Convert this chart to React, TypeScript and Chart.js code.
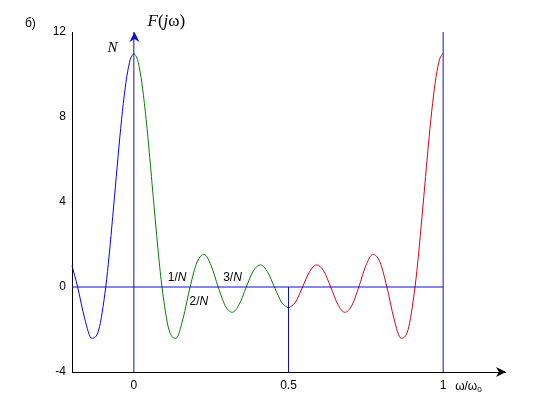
import React, { useEffect, useRef } from "react";
import { Chart, registerables } from "chart.js";

Chart.register(...registerables);

// ω/ω0 values and F(jω) values, per coloured segment
const blueOmega = [-0.2, -0.1818, -0.1591, -0.1364, -0.1136, -0.0909, -0.0795, -0.0682, -0.0568, -0.0455, -0.0341, -0.0227, -0.0114, 0];
const blueF = [1.0, 0, -1.48, -2.41, -2.02, 0, 1.55, 3.33, 5.2, 7.03, 8.64, 9.91, 10.72, 11];

const greenOmega = [0, 0.0114, 0.0227, 0.0341, 0.0455, 0.0568, 0.0682, 0.0795, 0.0909, 0.1136, 0.1364, 0.1591, 0.1818, 0.2045, 0.2273, 0.25, 0.2727, 0.2955, 0.3182, 0.3409, 0.3636, 0.3864, 0.4091, 0.4318, 0.4545, 0.4773, 0.5];
const greenF = [11, 10.72, 9.91, 8.64, 7.03, 5.2, 3.33, 1.55, 0, -2.02, -2.41, -1.48, 0, 1.18, 1.53, 1.0, 0, -0.88, -1.19, -0.81, 0, 0.76, 1.04, 0.72, 0, -0.71, -1.0];

const redOmega = [0.5, 0.5227, 0.5455, 0.5682, 0.5909, 0.6136, 0.6364, 0.6591, 0.6818, 0.7045, 0.7273, 0.75, 0.7727, 0.7955, 0.8182, 0.8409, 0.8636, 0.8864, 0.9091, 0.9205, 0.9318, 0.9432, 0.9545, 0.9659, 0.9773, 0.9886, 1];
const redF = [-1.0, -0.71, 0, 0.72, 1.04, 0.76, 0, -0.81, -1.19, -0.88, 0, 1.0, 1.53, 1.18, 0, -1.48, -2.41, -2.02, 0, 1.55, 3.33, 5.2, 7.03, 8.64, 9.91, 10.72, 11];

// reference lines (ω/ω0, F) endpoints
const zeroOmegaLine = [{ x: 0, y: -4 }, { x: 0, y: 12 }];
const zeroFLine = [{ x: -0.2, y: 0 }, { x: 1, y: 0 }];
const halfLine = [{ x: 0.5, y: 0 }, { x: 0.5, y: -4 }];
const oneLine = [{ x: 1, y: -4 }, { x: 1, y: 12 }];

const xTicks = [0, 0.5, 1];
const xTickLabels = ["0", "0.5", "1"];
const yTicks = [-4, 0, 4, 8, 12];

const BLUE = "#0000ff";
const AXBLUE = "#1010c8";
const GREEN = "#008000";
const RED = "#e00010";

const pts = (xs: number[], ys: number[]) => xs.map((x, i) => ({ x, y: ys[i] }));

function drawParts(ctx: CanvasRenderingContext2D, x: number, y: number, parts: [string, string, number?][]) {
  let cx = x;
  for (const [t, f, dy] of parts) {
    ctx.font = f;
    ctx.fillText(t, cx, y + (dy || 0));
    cx += ctx.measureText(t).width;
  }
}

const decorations = {
  id: "decorations",
  afterDatasetsDraw(chart: any) {
    const { ctx } = chart;
    const x = chart.scales.x;
    const y = chart.scales.y;
    ctx.save();
    ctx.textBaseline = "alphabetic";
    ctx.textAlign = "left";
    // x-axis arrow
    const ax = x.right + 1;
    const ay = y.bottom;
    ctx.fillStyle = "#000";
    ctx.beginPath();
    ctx.moveTo(ax, ay);
    ctx.lineTo(ax - 10, ay - 5);
    ctx.lineTo(ax - 7, ay);
    ctx.lineTo(ax - 10, ay + 5);
    ctx.closePath();
    ctx.fill();
    // arrow on ω=0 line
    const px = Math.round(x.getPixelForValue(0)) + 0.5;
    const top = y.top;
    ctx.fillStyle = AXBLUE;
    ctx.beginPath();
    ctx.moveTo(px, top);
    ctx.lineTo(px - 5, top + 10);
    ctx.lineTo(px, top + 7);
    ctx.lineTo(px + 5, top + 10);
    ctx.closePath();
    ctx.fill();

    ctx.fillStyle = "#000";
    const serifI = 'italic 17px "Liberation Serif", "Times New Roman", serif';
    const serif = '17px "Liberation Serif", "Times New Roman", serif';
    drawParts(ctx, px + 13, top - 6, [["F", serifI], ["(", serif], ["j", serifI], ["ω", serif], [")", serif]]);
    ctx.font = 'italic 15px "Liberation Serif", "Times New Roman", serif';
    ctx.fillText("N", px - 27, top + 20);

    const sans = '12px "Liberation Sans", Arial, sans-serif';
    const sansI = 'italic 12px "Liberation Sans", Arial, sans-serif';
    ctx.font = sans;
    ctx.fillText("б)", 25, 27);
    const y0 = y.getPixelForValue(0);
    drawParts(ctx, x.getPixelForValue(0.1) + 3, y0 - 6, [["1/", sans], ["N", sansI]]);
    drawParts(ctx, x.getPixelForValue(0.1818) - 0.5, y0 + 18, [["2/", sans], ["N", sansI]]);
    drawParts(ctx, x.getPixelForValue(0.2727) + 5, y0 - 6, [["3/", sans], ["N", sansI]]);

    const small = '12px "Liberation Sans", Arial, sans-serif';
    const sub = '8px "Liberation Sans", Arial, sans-serif';
    drawParts(ctx, x.getPixelForValue(1) + 12, y.bottom + 18, [["ω/ω", small], ["0", sub, 2]]);
    ctx.restore();
  },
};

export default function App() {
  const ref = useRef<HTMLCanvasElement>(null);
  useEffect(() => {
    document.body.style.margin = "0";
    const line = (data: any[], color: string, extra: any = {}) => ({
      data,
      borderColor: color,
      backgroundColor: color,
      borderWidth: 1,
      pointRadius: 0,
      fill: false,
      clip: false,
      ...extra,
    });
    const curve = { cubicInterpolationMode: "monotone" };
    const chart = new Chart(ref.current!, {
      type: "line",
      data: {
        datasets: [
          line(zeroFLine, AXBLUE),
          line(halfLine, AXBLUE),
          line(oneLine, AXBLUE),
          line(pts(blueOmega, blueF), BLUE, curve),
          line(pts(greenOmega, greenF), GREEN, curve),
          line(pts(redOmega, redF), RED, curve),
          line(zeroOmegaLine, AXBLUE),
        ],
      },
      options: {
        responsive: false,
        animation: false,
        parsing: false as any,
        layout: { padding: { left: 0, top: 32, right: 55, bottom: 0 } },
        plugins: { legend: { display: false }, tooltip: { enabled: false } },
        scales: {
          x: {
            type: "linear",
            min: -0.2,
            max: 1.2,
            afterFit: (s: any) => { s.height = 48; },
            afterBuildTicks: (s: any) => { s.ticks = xTicks.map((v) => ({ value: v })); },
            grid: { drawOnChartArea: false, drawTicks: false },
            border: { display: true, color: "#000", width: 1 },
            ticks: {
              padding: 6,
              color: "#000",
              font: { family: '"Liberation Sans", Arial, sans-serif', size: 12 },
              callback: (v: any) => xTickLabels[xTicks.indexOf(Number(v))] ?? "",
              maxRotation: 0,
            },
          },
          y: {
            type: "linear",
            min: -4,
            max: 12,
            afterFit: (s: any) => { s.width = 72; },
            afterBuildTicks: (s: any) => { s.ticks = yTicks.map((v) => ({ value: v })); },
            grid: { drawOnChartArea: false, drawTicks: false },
            border: { display: true, color: "#000", width: 1 },
            ticks: {
              padding: 6,
              color: "#000",
              font: { family: '"Liberation Sans", Arial, sans-serif', size: 12 },
            },
          },
        },
      },
      plugins: [decorations],
    } as any);
    return () => chart.destroy();
  }, []);
  return <canvas ref={ref} width={560} height={420} style={{ display: "block" }} />;
}
